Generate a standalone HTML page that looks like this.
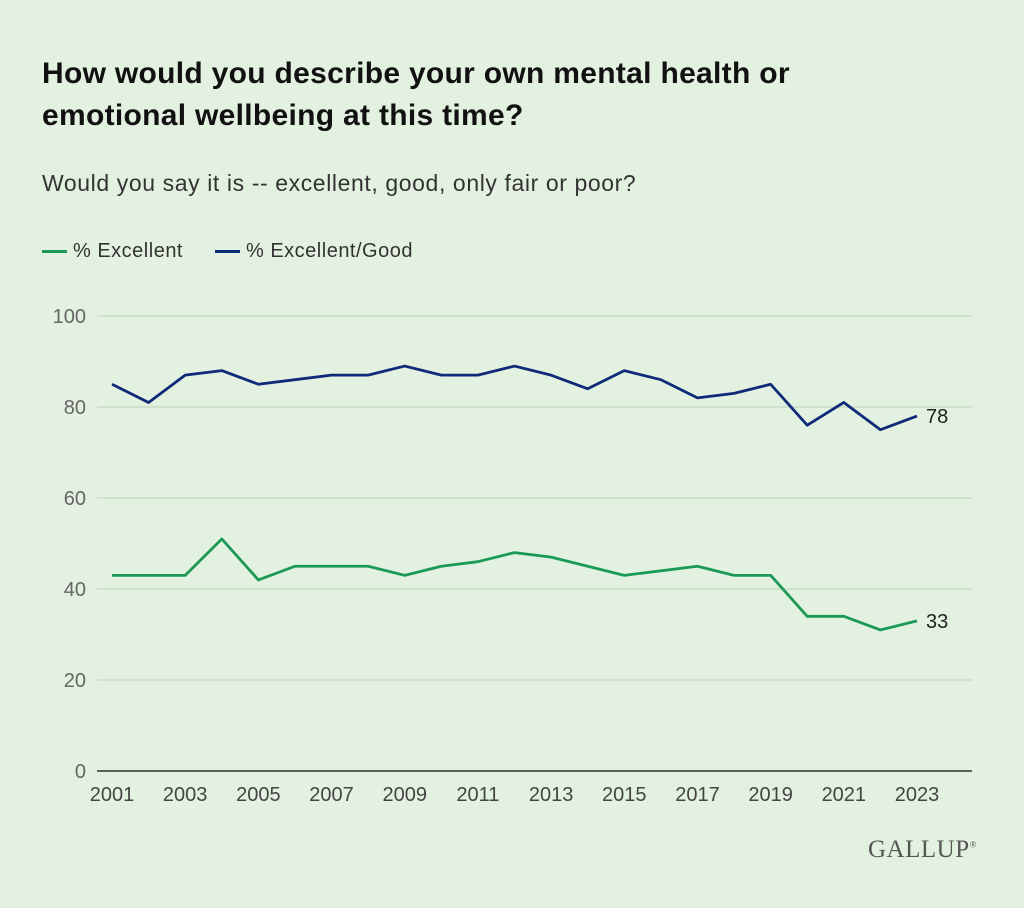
<!DOCTYPE html>
<html><head><meta charset="utf-8"><style>
body{margin:0;background:#e3f1e0;font-family:"Liberation Sans",sans-serif;}
#wrap{position:relative;width:1024px;height:908px;overflow:hidden;background:#e3f1e0;}
h1{position:absolute;left:42px;top:53px;margin:0;font-size:30px;line-height:42px;font-weight:bold;color:#111;width:830px;letter-spacing:0.3px;}
.sub{position:absolute;left:42px;top:170px;font-size:23px;color:#333;letter-spacing:0.6px;}
.leg{position:absolute;top:240px;font-size:20px;color:#333;display:flex;align-items:center;letter-spacing:0.5px;}
.leg i{display:inline-block;width:25px;height:3px;margin-right:6px;}
.logo{position:absolute;left:868px;top:836px;font-family:"Liberation Serif",serif;font-size:25px;color:#555;letter-spacing:0.5px;}
</style></head><body>
<div id="wrap">
<h1>How would you describe your own mental health or emotional wellbeing at this time?</h1>
<div class="sub">Would you say it is -- excellent, good, only fair or poor?</div>
<div class="leg" style="left:42px"><i style="background:#1a9a55"></i>% Excellent</div>
<div class="leg" style="left:215px"><i style="background:#0f2a78"></i>% Excellent/Good</div>
<svg id="chart" width="1024" height="908" style="position:absolute;left:0;top:0"></svg>
<div class="logo">GALLUP<sup style="font-size:9px">®</sup></div>
</div>
<script>
const years=[2001,2002,2003,2004,2005,2006,2007,2008,2009,2010,2011,2012,2013,2014,2015,2016,2017,2018,2019,2020,2021,2022,2023];
const excellentGood=[85,81,87,88,85,86,87,87,89,87,87,89,87,84,88,86,82,83,85,76,81,75,78];
const excellent=[43,43,43,51,42,45,45,45,43,45,46,48,47,45,43,44,45,43,43,34,34,31,33];
const yTicks=[0,20,40,60,80,100];
const xTickLabels=[2001,2003,2005,2007,2009,2011,2013,2015,2017,2019,2021,2023];
const NS="http://www.w3.org/2000/svg";
const svg=document.getElementById('chart');
const x=v=>112+(v-2001)*(917-112)/22;
const y=v=>771-v*4.55;
function mk(t,a){const e=document.createElementNS(NS,t);for(const k in a)e.setAttribute(k,a[k]);svg.appendChild(e);return e;}
yTicks.forEach(t=>{
 const l=mk('line',{x1:97,x2:972,y1:y(t),y2:y(t),stroke:t===0?'#333':'#c5d8c2','stroke-width':t===0?1.5:1.2});
 
 
 const tx=mk('text',{x:86,y:y(t)+7,'text-anchor':'end','font-size':20,fill:'#666','font-family':'Liberation Sans,sans-serif'});
 tx.textContent=t;
 
 
});
xTickLabels.forEach(t=>{
 const tx=mk('text',{x:x(t),y:801,'text-anchor':'middle','font-size':20,fill:'#444','font-family':'Liberation Sans,sans-serif'});
 tx.textContent=t;
 
 
});
function series(vals,color,name){
 const p=mk('polyline',{points:vals.map((v,i)=>x(years[i])+','+y(v)).join(' '),fill:'none',stroke:color,'stroke-width':2.8,'stroke-linejoin':'round'});
 
 
 const last=vals[vals.length-1];
 const tx=mk('text',{x:x(years[years.length-1])+9,y:y(last)+7,'font-size':20,fill:'#222','font-family':'Liberation Sans,sans-serif'});
 tx.textContent=last;
 
 
}
series(excellentGood,'#0f2a78','excellent-good');
series(excellent,'#1a9a55','excellent');
</script>
</body></html>
